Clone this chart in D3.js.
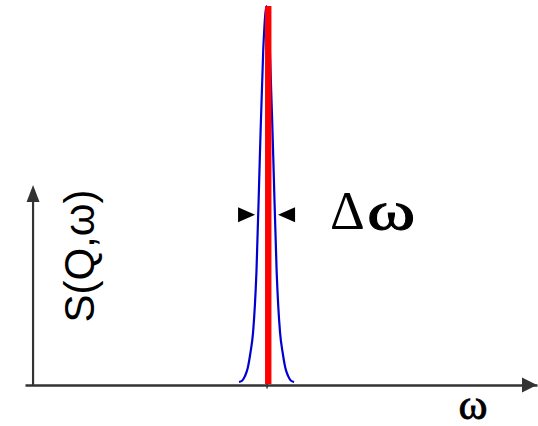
<!DOCTYPE html>
<html>
<head>
<meta charset="utf-8">
<script src="https://cdn.jsdelivr.net/npm/d3@7/dist/d3.min.js"></script>
<style>
  html, body { margin: 0; padding: 0; background: #fff; }
  svg { display: block; }
</style>
</head>
<body>
<svg id="chart" width="538" height="426"></svg>
<script>
// Resolution function (blue) sampled across energy transfer ω
const omega = [-4.35, -3.85, -3.45, -3.05, -2.65, -2.25, -1.75, -1.25, -0.75, -0.25,
               0.25, 0.75, 1.25, 1.75, 2.15, 2.55, 2.95, 3.35, 3.85];
const resolution = [0.008, 0.012, 0.024, 0.045, 0.085, 0.14, 0.30, 0.60, 0.88, 1.0,
                    0.88, 0.60, 0.30, 0.14, 0.085, 0.045, 0.024, 0.012, 0.008];
// Elastic line (red): a delta function at ω = 0
const elasticOmega = [0];
const elasticHeight = [1.0];
// Full width marker Δω, centred on the resolution peak
const peakCentre = [-0.25];
const halfWidthMarker = [1.71];
const markerLevel = [0.449];
// Axis extents in data units
const xExtent = [-36.2, 40];
const yAxisOmega = [-35];
const yAxisTop = [0.528];

const svg = d3.select("#chart");
const x = d3.scaleLinear().domain(xExtent).range([25, 537]);
const y = d3.scaleLinear().domain([0, 1]).range([385, 6]);

const axisColor = "#333333";
const serif = "'Liberation Serif', 'Times New Roman', serif";

// x axis with a single tick at the peak centre
const xAxis = d3.axisBottom(x).tickValues(peakCentre).tickSizeInner(3).tickSizeOuter(0).tickFormat("");
const gx = svg.append("g").attr("transform", `translate(0,${y(0)})`).call(xAxis);
gx.select(".domain").attr("stroke", axisColor).attr("stroke-width", 2.4);
gx.selectAll(".tick line").attr("stroke", axisColor).attr("stroke-width", 1.5).attr("y1", -3).attr("y2", 3.5);

// x axis arrowhead
const xTip = x(xExtent[1]);
svg.append("path")
  .attr("d", `M${xTip},${y(0)} L${xTip - 15},${y(0) - 7.5} L${xTip - 15},${y(0) + 7.5} Z`)
  .attr("fill", axisColor);

// y axis
const yx = x(yAxisOmega[0]);
const yTip = y(yAxisTop[0]);
svg.append("line")
  .attr("x1", yx).attr("x2", yx)
  .attr("y1", y(0) + 1).attr("y2", yTip + 15)
  .attr("stroke", axisColor).attr("stroke-width", 2.2);
svg.append("path")
  .attr("d", `M${yx},${yTip} L${yx - 6.5},${yTip + 17} L${yx + 6.5},${yTip + 17} Z`)
  .attr("fill", axisColor);

// resolution curve
const line = d3.line()
  .x((d, i) => x(omega[i]))
  .y(d => y(d))
  .curve(d3.curveMonotoneX);
svg.append("path")
  .datum(resolution)
  .attr("d", line)
  .attr("fill", "none")
  .attr("stroke", "#0000d0")
  .attr("stroke-width", 2.2);

// elastic delta line
svg.selectAll("rect.elastic")
  .data(elasticHeight)
  .join("rect")
  .attr("class", "elastic")
  .attr("x", (d, i) => x(elasticOmega[i]) - 3.2)
  .attr("width", 6.4)
  .attr("y", d => y(d))
  .attr("height", d => y(0) - y(d) - 1)
  .attr("fill", "#ff0000");

// Δω width markers
const my = y(markerLevel[0]);
const lTip = x(peakCentre[0] - halfWidthMarker[0]);
const rTip = x(peakCentre[0] + halfWidthMarker[0]);
svg.append("path")
  .attr("d", `M${lTip},${my} L${lTip - 17},${my - 7.5} L${lTip - 17},${my + 7.5} Z`)
  .attr("fill", "#000");
svg.append("path")
  .attr("d", `M${rTip},${my} L${rTip + 17},${my - 7.5} L${rTip + 17},${my + 7.5} Z`)
  .attr("fill", "#000");

// Δω label: wide omega next to the delta
const dw = svg.append("g").attr("fill", "#000").attr("font-family", serif);
dw.append("text")
  .attr("x", 330).attr("y", 229)
  .attr("font-size", 54)
  .text("Δ");
dw.append("text")
  .attr("transform", "translate(367,229) scale(1.36,1)")
  .attr("font-size", 54)
  .attr("stroke", "#000")
  .attr("stroke-width", 0.9)
  .text("ω");

// axis titles
svg.append("text")
  .attr("transform", "translate(473,419) scale(1.05,1)")
  .attr("text-anchor", "middle")
  .attr("font-family", serif)
  .attr("font-size", 42)
  .attr("stroke", "#000")
  .attr("stroke-width", 0.8)
  .attr("fill", "#000")
  .text("ω");

svg.append("text")
  .attr("transform", "translate(94,256) rotate(-90)")
  .attr("text-anchor", "middle")
  .attr("font-family", "'Liberation Sans', Arial, sans-serif")
  .attr("font-size", 42)
  .attr("fill", "#000")
  .text("S(Q,ω)");
</script>
</body>
</html>
